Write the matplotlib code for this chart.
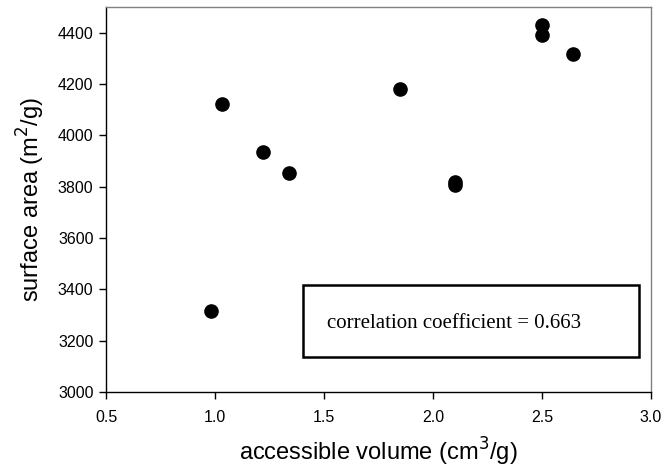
import numpy as np
import matplotlib.pyplot as plt

# accessible volume (cm3/g) vs surface area (m2/g)
volume = [0.98, 1.03, 1.22, 1.34, 1.85, 2.10, 2.10, 2.50, 2.50, 2.64]
area = [3316, 4123, 3936, 3854, 4180, 3817, 3805, 4432, 4393, 4317]
r_text = "correlation coefficient = 0.663"

plt.rcParams['font.family'] = ['Liberation Sans', 'DejaVu Sans']

fig = plt.figure(figsize=(6.65, 4.74), dpi=100)
ax = fig.add_axes([0.1594, 0.173, 0.8196, 0.812])

ax.plot(volume, area, 'o', color='black', markersize=9.5, linestyle='none')

ax.set_xlim(0.5, 3.0)
ax.set_ylim(3000, 4500)
ax.set_xticks(np.arange(0.5, 3.01, 0.5))
ax.set_xticklabels(['%.1f' % v for v in np.arange(0.5, 3.01, 0.5)])
ax.set_yticks(np.arange(3000, 4401, 200))
ax.tick_params(direction='out', length=5, width=1, labelsize=11.5)
ax.tick_params(axis='x', pad=8)
ax.tick_params(axis='y', pad=4)

for side in ['top', 'right']:
    ax.spines[side].set_color('#808080')
    ax.spines[side].set_linewidth(1)
for side in ['left', 'bottom']:
    ax.spines[side].set_linewidth(1)

ax.set_xlabel('accessible volume (cm$^3$/g)', fontsize=17, labelpad=8)
ax.set_ylabel('surface area (m$^2$/g)', fontsize=17, labelpad=8)

# boxed annotation
box = plt.Rectangle((1.403, 3137), 2.945 - 1.403, 3418 - 3137,
                    fill=False, edgecolor='black', linewidth=1.8)
ax.add_patch(box)
ax.text(2.096, 3268, r_text, ha='center', va='center', fontsize=15,
        family=['Liberation Serif', 'DejaVu Serif'])

fig.savefig('out.png', dpi=100)
